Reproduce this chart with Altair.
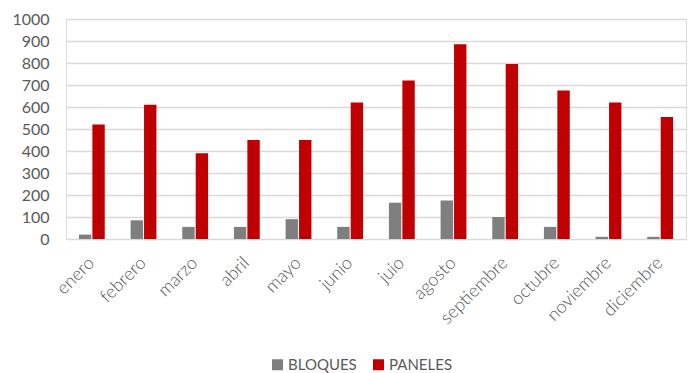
import altair as alt
import pandas as pd

months = ["enero", "febrero", "marzo", "abril", "mayo", "junio", "juio",
          "agosto", "septiembre", "octubre", "noviembre", "diciembre"]
bloques = [20, 85, 55, 55, 90, 55, 165, 175, 100, 55, 10, 10]
paneles = [520, 610, 390, 450, 450, 620, 720, 885, 795, 675, 620, 555]
series = ["BLOQUES", "PANELES"]
colors = ["#7f7f7f", "#c00000"]

rows = []
for m, b, p in zip(months, bloques, paneles):
    rows.append({"mes": m, "serie": "BLOQUES", "valor": b})
    rows.append({"mes": m, "serie": "PANELES", "valor": p})
df = pd.DataFrame(rows)

FONT = "Lato"
TXT = "#595959"

chart = alt.Chart(df).mark_bar().encode(
    x=alt.X("mes:N", sort=months, title=None,
            scale=alt.Scale(paddingInner=0.5, paddingOuter=0.25),
            axis=alt.Axis(labelAngle=-45, labelFontSize=18, labelColor=TXT,
                          labelFont=FONT, labelFontWeight=300,
                          labelAlign="right", labelBaseline="middle",
                          ticks=False, domain=False, grid=False,
                          labelPadding=21)),
    xOffset=alt.XOffset("serie:N", sort=series, scale=alt.Scale(paddingInner=0.08)),
    y=alt.Y("valor:Q", title=None,
            scale=alt.Scale(domain=[0, 1000], nice=False),
            axis=alt.Axis(values=list(range(0, 1001, 100)), format="d",
                          labelFontSize=16, labelColor=TXT, labelFont=FONT,
                          ticks=False, domain=False, gridColor="#d9d9d9",
                          gridWidth=1.5, labelPadding=17)),
    color=alt.Color("serie:N", sort=series, title=None,
                    scale=alt.Scale(domain=series, range=colors),
                    legend=alt.Legend(orient="none", direction="horizontal",
                                      legendX=204, legendY=338,
                                      symbolType="square", symbolSize=121,
                                      symbolStrokeWidth=0, labelFontSize=15,
                                      labelColor=TXT, labelFont=FONT,
                                      labelOffset=3, columnPadding=14)),
).properties(
    width=620, height=220,
    autosize=alt.AutoSizeParams(type="none"),
    padding={"left": 66, "top": 19, "right": 2, "bottom": 134},
).configure_view(stroke=None).configure(background="white")

chart.save("out.html", embed_options={"renderer": "svg", "actions": False})
